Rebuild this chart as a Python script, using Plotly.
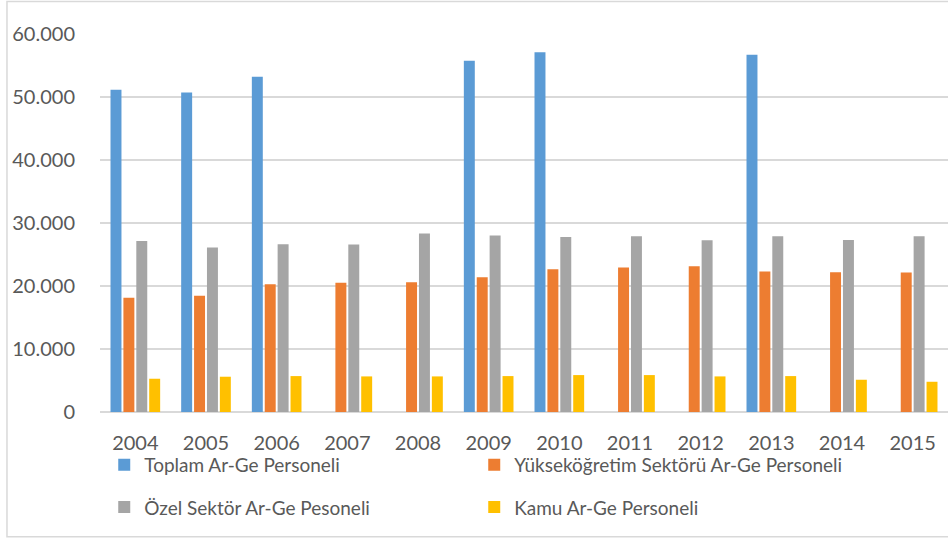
import plotly.graph_objects as go

years = ["2004", "2005", "2006", "2007", "2008", "2009", "2010", "2011", "2012", "2013", "2014", "2015"]
toplam = [51150, 50720, 53200, None, None, 55740, 57110, None, None, 56690, None, None]
yuksekogretim = [18120, 18440, 20290, 20500, 20600, 21400, 22670, 22930, 23140, 22300, 22190, 22140]
ozel = [27160, 26100, 26630, 26570, 28320, 28000, 27790, 27900, 27260, 27900, 27310, 27900]
kamu = [5280, 5600, 5700, 5650, 5650, 5700, 5860, 5860, 5650, 5700, 5120, 4800]

names = ["Toplam Ar-Ge Personeli", "Yükseköğretim Sektörü Ar-Ge Personeli",
         "Özel Sektör Ar-Ge Pesoneli", "Kamu Ar-Ge Personeli"]
colors = ["#5B9BD5", "#ED7D31", "#A5A5A5", "#FFC000"]
series = [toplam, yuksekogretim, ozel, kamu]
legends = ["legend", "legend", "legend2", "legend2"]

FONT = "Lato, 'Open Sans', sans-serif"
TXT = "#595959"

fig = go.Figure()
for nm, col, vals, lg in zip(names, colors, series, legends):
    fig.add_trace(go.Bar(x=years, y=vals, name=nm, marker=dict(color=col, line=dict(width=0)),
                         legend=lg))

leg_common = dict(orientation="h", xanchor="left", yanchor="middle",
                  font=dict(family=FONT, size=19, color=TXT),
                  entrywidth=325, entrywidthmode="pixels",
                  bgcolor="rgba(0,0,0,0)", itemclick=False)

fig.update_layout(
    width=948, height=538,
    margin=dict(l=100, r=0, t=34, b=126),
    paper_bgcolor="white", plot_bgcolor="white",
    separators=",.",
    barmode="group", bargap=0.27, bargroupgap=0.15,
    font=dict(family=FONT, size=20, color=TXT),
    xaxis=dict(showgrid=False, showline=False, ticks="outside", ticklen=13,
               tickcolor="rgba(0,0,0,0)", tickfont=dict(family=FONT, size=20, color=TXT)),
    yaxis=dict(range=[0, 60000], dtick=10000, tickformat=",d", showgrid=True,
               gridcolor="#D9D9D9", gridwidth=1.5, zeroline=True, zerolinecolor="#D9D9D9",
               zerolinewidth=1.5, showline=False, ticks="outside", ticklen=20,
               tickcolor="rgba(0,0,0,0)", tickfont=dict(family=FONT, size=20, color=TXT)),
    legend=dict(x=0.005, y=-0.14, **leg_common),
    legend2=dict(x=0.005, y=-0.252, **leg_common),
    showlegend=True,
    shapes=[dict(type="rect", xref="paper", yref="paper", x0=-0.1097, x1=1.01,
                 y0=-0.330, y1=1.0859, line=dict(color="#D9D9D9", width=1.5),
                 fillcolor="rgba(0,0,0,0)", layer="below")],
)

fig.write_html("out.html", config={"displayModeBar": False},
               post_script="document.body.style.margin='0';document.body.style.overflow='hidden';")
